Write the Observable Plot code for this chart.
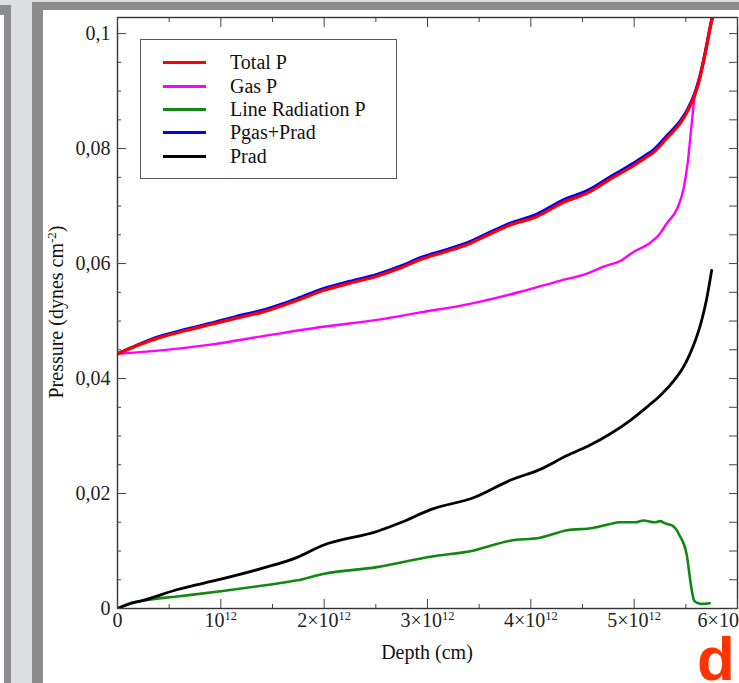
<!DOCTYPE html>
<html>
<head>
<meta charset="utf-8">
<script src="https://cdn.jsdelivr.net/npm/d3@7"></script>
<script src="https://cdn.jsdelivr.net/npm/@observablehq/plot@0.6"></script>
<style>
  html, body { margin: 0; padding: 0; background: #ffffff; }
  #wrap { position: relative; width: 739px; height: 683px; overflow: hidden; background: #dddee1; }
  .blk { position: absolute; }
  #legend { position: absolute; left: 140px; top: 39px; width: 257px; height: 140px; border: 1px solid #555;
            background: #fff; font-family: "Liberation Serif", "DejaVu Serif", serif; font-size: 20px; color: #111;
            box-sizing: border-box; padding-top: 11px; }
  .item { display: flex; align-items: center; height: 23.4px; }
  .sw { width: 43px; height: 3px; margin-left: 22px; margin-right: 24px; }
  #chart { position: absolute; left: 0; top: 0; }
</style>
</head>
<body>
<div id="wrap">
  <div class="blk" style="left:0;top:5px;width:11px;height:678px;background:#8c8c8c"></div>
  <div class="blk" style="left:0;top:15px;width:4px;height:668px;background:#ffffff"></div>
  <div class="blk" style="left:32px;top:2px;width:707px;height:681px;background:#8c8c8c"></div>
  <div class="blk" style="left:43px;top:10px;width:696px;height:673px;background:#ffffff"></div>
  <div id="chart"></div>
  <div id="legend"></div>
</div>
<script>
// Depth in units of 1e12 cm, pressure in dynes cm^-2
const seriesNames = ["Total P", "Gas P", "Line Radiation P", "Pgas+Prad", "Prad"];
const seriesColors = ["#ff0000", "#ff00ff", "#118811", "#0000ff", "#000000"];

const totalDepth = [0, 0.2, 0.42, 0.65, 0.9, 1.15, 1.41, 1.6, 1.74, 1.99, 2.25, 2.51, 2.75, 2.93, 3.03, 3.2, 3.41, 3.6, 3.8, 4.06, 4.32, 4.55, 4.78, 5.0, 5.1, 5.19, 5.32, 5.45, 5.52, 5.62, 5.68, 5.75, 5.78];
const totalP     = [0.0443, 0.0458, 0.0472, 0.0483, 0.0494, 0.0505, 0.0516, 0.0527, 0.0536, 0.0553, 0.0566, 0.0578, 0.0593, 0.0607, 0.0613, 0.0622, 0.0635, 0.0651, 0.0667, 0.0682, 0.0707, 0.0723, 0.0748, 0.0771, 0.0783, 0.0794, 0.0819, 0.0845, 0.0866, 0.0912, 0.0959, 0.1023, 0.1045];

const sumDepth = [0, 0.2, 0.42, 0.65, 0.9, 1.15, 1.41, 1.6, 1.74, 1.99, 2.25, 2.51, 2.75, 2.93, 3.03, 3.2, 3.41, 3.6, 3.8, 4.06, 4.32, 4.55, 4.78, 5.0, 5.1, 5.19, 5.32, 5.45, 5.52, 5.62, 5.68, 5.75, 5.78];
const sumP     = [0.0443, 0.0459, 0.0474, 0.0485, 0.0496, 0.0508, 0.0519, 0.0530, 0.0539, 0.0556, 0.0569, 0.0581, 0.0596, 0.0610, 0.0616, 0.0625, 0.0638, 0.0654, 0.0670, 0.0686, 0.0711, 0.0727, 0.0752, 0.0775, 0.0787, 0.0798, 0.0823, 0.0849, 0.0869, 0.0914, 0.0960, 0.1023, 0.1045];

const gasDepth = [0, 0.42, 0.9, 1.45, 1.99, 2.51, 2.93, 3.41, 3.9, 4.28, 4.55, 4.71, 4.87, 5.0, 5.13, 5.24, 5.32, 5.42, 5.48, 5.52, 5.55, 5.58, 5.65, 5.71, 5.77];
const gasP     = [0.0443, 0.0449, 0.0459, 0.0475, 0.0490, 0.0502, 0.0515, 0.0530, 0.0551, 0.0570, 0.0583, 0.0595, 0.0605, 0.0621, 0.0633, 0.0650, 0.0671, 0.0697, 0.0732, 0.0778, 0.0831, 0.0883, 0.0936, 0.0988, 0.1045];

const lineDepth = [0, 0.1, 0.25, 0.58, 1.0, 1.41, 1.74, 1.99, 2.51, 3.03, 3.45, 3.8, 4.09, 4.35, 4.6, 4.77, 4.86, 5.01, 5.09, 5.2, 5.25, 5.3, 5.37, 5.44, 5.51, 5.55, 5.58, 5.62, 5.66, 5.73];
const lineP     = [0, 0.0008, 0.0014, 0.0021, 0.0030, 0.0040, 0.0049, 0.0060, 0.0072, 0.0090, 0.0101, 0.0118, 0.0123, 0.0136, 0.0140, 0.0147, 0.0150, 0.0150, 0.0153, 0.0150, 0.0152, 0.0148, 0.0144, 0.0127, 0.0092, 0.0040, 0.0014, 0.0009, 0.0008, 0.0009];

const pradDepth = [0, 0.1, 0.25, 0.58, 1.0, 1.38, 1.74, 1.99, 2.51, 2.75, 3.03, 3.45, 3.8, 4.09, 4.35, 4.57, 4.77, 4.96, 5.14, 5.25, 5.4, 5.47, 5.54, 5.6, 5.65, 5.7, 5.75];
const pradP     = [0, 0.0007, 0.0014, 0.0033, 0.0051, 0.0069, 0.0089, 0.0110, 0.0134, 0.0150, 0.0172, 0.0193, 0.0223, 0.0242, 0.0266, 0.0284, 0.0304, 0.0327, 0.0353, 0.0370, 0.0400, 0.0418, 0.0443, 0.0470, 0.0499, 0.0537, 0.0588];

const xMajorTicks = [0, 1, 2, 3, 4, 5, 6];
const xMinorTicks = [0.5, 1.5, 2.5, 3.5, 4.5, 5.5];
const xTickBase = ["0", "10", "2×10", "3×10", "4×10", "5×10", "6×10"];
const xTickExp  = ["", "12", "12", "12", "12", "12", "12"];
const yMajorTicks = [0, 0.02, 0.04, 0.06, 0.08, 0.1];
const yMinorTicks = [0.005, 0.01, 0.015, 0.025, 0.03, 0.035, 0.045, 0.05, 0.055, 0.065, 0.07, 0.075, 0.085, 0.09, 0.095];
const yTickLabels = ["0", "0,02", "0,04", "0,06", "0,08", "0,1"];

const toRows = (d, v) => d.map((x, i) => ({depth: x, p: v[i]}));
const tables = {
  "Total P": toRows(totalDepth, totalP),
  "Gas P": toRows(gasDepth, gasP),
  "Line Radiation P": toRows(lineDepth, lineP),
  "Pgas+Prad": toRows(sumDepth, sumP),
  "Prad": toRows(pradDepth, pradP)
};
const colorOf = name => seriesColors[seriesNames.indexOf(name)];
const drawOrder = ["Line Radiation P", "Prad", "Gas P", "Pgas+Prad", "Total P"];
const widths = {"Total P": 3.2, "Gas P": 2.4, "Line Radiation P": 2.6, "Pgas+Prad": 3.2, "Prad": 2.8};
const serif = "'Liberation Serif', 'DejaVu Serif', serif";

const blank = () => "";
const chart = Plot.plot({
  width: 739,
  height: 683,
  marginLeft: 117,
  marginRight: 2,
  marginTop: 17,
  marginBottom: 75,
  style: {background: "transparent", fontFamily: serif, fontSize: "20px", color: "#222", overflow: "hidden"},
  x: {domain: [0, 6], label: null},
  y: {domain: [0, 0.1028], label: null},
  marks: [
    ...drawOrder.map(name => Plot.line(tables[name], {x: "depth", y: "p", stroke: colorOf(name), strokeWidth: widths[name], curve: "monotone-x", clip: true})),
    Plot.frame({stroke: "#333", strokeWidth: 1.4}),
    Plot.axisX({anchor: "bottom", ticks: xMajorTicks, tickSize: -9, tickPadding: 13, tickFormat: (d) => "@" + xMajorTicks.indexOf(d), label: null, stroke: "#444"}),
    Plot.axisX({anchor: "bottom", ticks: xMinorTicks, tickSize: -4, tickFormat: blank, label: null, stroke: "#444"}),
    Plot.axisX({anchor: "top", ticks: xMajorTicks, tickSize: -9, tickFormat: blank, label: null, stroke: "#444"}),
    Plot.axisX({anchor: "top", ticks: xMinorTicks, tickSize: -4, tickFormat: blank, label: null, stroke: "#444"}),
    Plot.axisY({anchor: "left", ticks: yMajorTicks, tickSize: -9, tickPadding: 16, tickFormat: (d) => yTickLabels[yMajorTicks.indexOf(d)], label: null, stroke: "#444"}),
    Plot.axisY({anchor: "left", ticks: yMinorTicks, tickSize: -4, tickFormat: blank, label: null, stroke: "#444"}),
    Plot.axisY({anchor: "right", ticks: yMajorTicks.concat(yMinorTicks), tickSize: -9, tickFormat: blank, label: null, stroke: "#444"})
  ]
});
document.getElementById("chart").appendChild(chart);
const svg = d3.select(chart);
svg.selectAll("text").style("font-family", serif);

// x tick labels: base + raised exponent
svg.selectAll("text").each(function () {
  const t = d3.select(this);
  const s = t.text();
  if (s.startsWith("@")) {
    const i = +s.slice(1);
    const sp = t.select("tspan");
    const target = sp.empty() ? t : sp;
    target.text("");
    const base = target.append("tspan").text(xTickBase[i]);
    if (i === xMajorTicks.length - 1) base.attr("dx", -13);
    if (xTickExp[i]) target.append("tspan").attr("baseline-shift", "super").style("font-size", "12.5px").text(xTickExp[i]);
  }
});

// axis titles
const yl = svg.append("text")
  .attr("transform", "translate(63,312) rotate(-90)")
  .attr("text-anchor", "middle")
  .attr("fill", "#111")
  .style("font-family", serif)
  .style("font-size", "20px");
yl.append("tspan").text("Pressure (dynes cm");
yl.append("tspan").attr("baseline-shift", "super").style("font-size", "13px").text("-2");
yl.append("tspan").text(")");

svg.append("text")
  .attr("x", 427).attr("y", 659)
  .attr("text-anchor", "middle")
  .attr("fill", "#111")
  .style("font-family", serif)
  .style("font-size", "20px")
  .text("Depth (cm)");

svg.append("text")
  .attr("x", 697).attr("y", 680)
  .attr("text-anchor", "start")
  .attr("fill", "#ff3300")
  .style("font-family", "'Liberation Sans', Arial, sans-serif")
  .style("font-weight", "bold")
  .style("font-size", "62px")
  .text("d");

// legend
const legend = d3.select("#legend");
seriesNames.forEach((name, i) => {
  const row = legend.append("div").attr("class", "item");
  row.append("div").attr("class", "sw").style("background", seriesColors[i]);
  row.append("span").text(name);
});
</script>
</body>
</html>
